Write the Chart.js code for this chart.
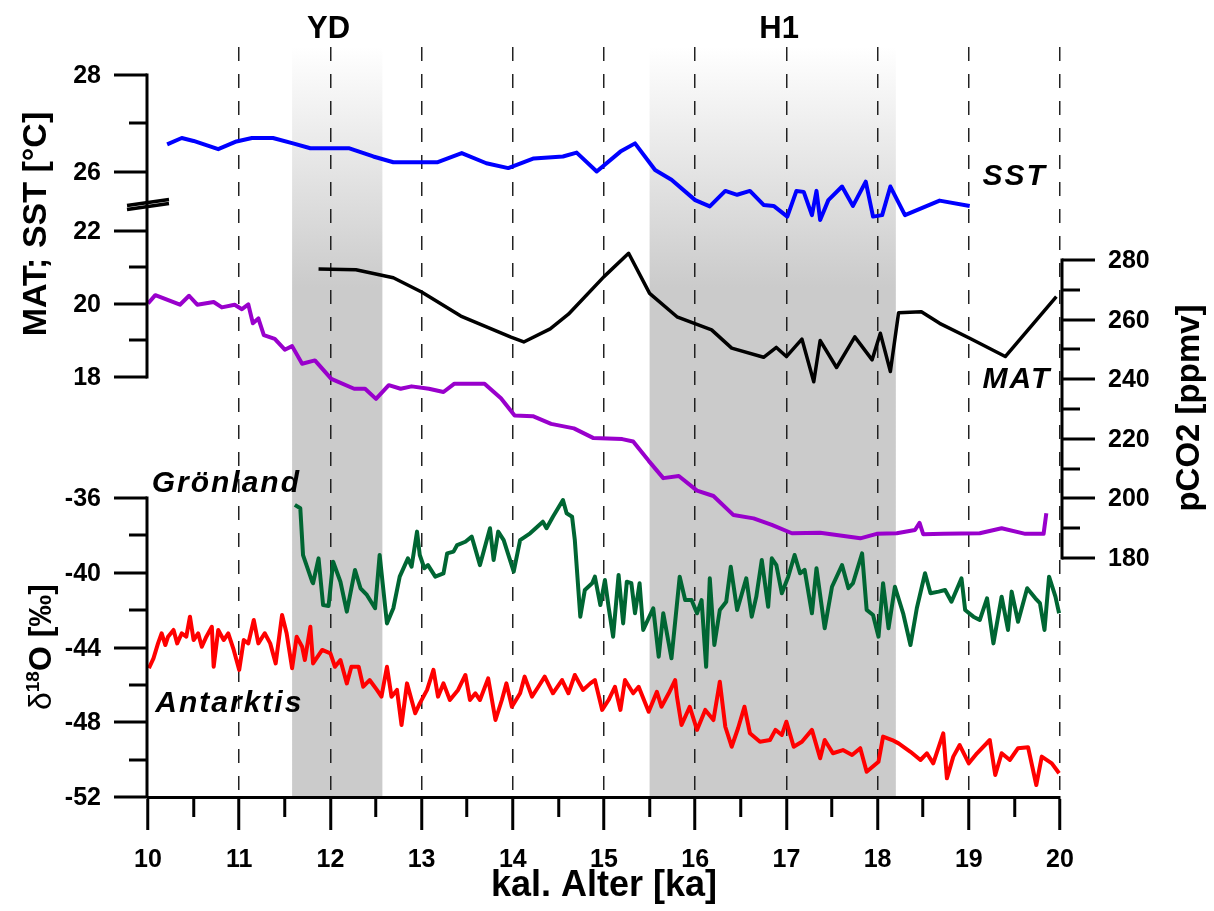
<!DOCTYPE html>
<html>
<head>
<meta charset="utf-8">
<script src="https://cdn.jsdelivr.net/npm/chart.js@4.4.0/dist/chart.umd.min.js"></script>
<style>
  html,body{margin:0;background:#fff}
  #wrap{width:1214px;height:911px;position:relative}
</style>
</head>
<body>
<div id="wrap"><canvas id="chart"></canvas></div>
<script>
/* ---------- data (age ka, value) ---------- */
const sst = [[10.21,26.57],[10.37,26.70],[10.50,26.64],[10.77,26.47],[10.97,26.63],[11.14,26.70],[11.37,26.70],[11.59,26.59],
  [11.78,26.49],[12.20,26.49],[12.47,26.32],[12.69,26.20],[13.17,26.20],[13.44,26.39],[13.71,26.18],[13.95,26.08],[14.23,26.28],
  [14.55,26.32],[14.70,26.40],[14.92,26.01],[15.18,26.42],[15.34,26.59],[15.56,26.04],[15.74,25.84],[16.00,25.42],[16.16,25.29],
  [16.33,25.61],[16.46,25.53],[16.60,25.61],[16.75,25.32],[16.86,25.30],[17.01,25.08],[17.11,25.61],[17.19,25.59],[17.28,25.11],
  [17.33,25.61],[17.37,25.01],[17.46,25.42],[17.61,25.70],[17.73,25.30],[17.87,25.80],[17.95,25.08],[18.05,25.11],[18.14,25.70],
  [18.30,25.11],[18.68,25.41],[19.01,25.30]];

const mat = [[11.87,20.96],[12.28,20.94],[12.69,20.72],[13.00,20.33],[13.43,19.67],[13.98,19.09],[14.12,18.96],[14.41,19.32],
  [14.61,19.72],[15.00,20.75],[15.27,21.39],[15.50,20.29],[15.80,19.65],[16.18,19.29],[16.40,18.79],[16.75,18.54],[16.89,18.81],
  [17.00,18.56],[17.17,19.04],[17.30,17.87],[17.37,19.00],[17.55,18.26],[17.75,19.10],[17.94,18.47],[18.03,19.20],[18.14,18.15],
  [18.23,19.76],[18.48,19.79],[18.68,19.47],[19.01,19.06],[19.40,18.56],[19.96,20.20]];

const pco2 = [[10.00,265.4],[10.08,268.2],[10.35,265.0],[10.45,268.0],[10.54,265.0],[10.72,265.9],[10.81,264.1],[10.95,265.0],
  [11.03,263.5],[11.10,265.1],[11.15,258.8],[11.21,260.4],[11.27,254.8],[11.39,253.5],[11.50,249.9],[11.58,251.1],[11.69,245.2],
  [11.83,246.3],[12.01,240.1],[12.26,236.8],[12.38,236.8],[12.50,233.4],[12.64,238.0],[12.77,236.8],[12.89,237.6],[13.08,236.8],
  [13.24,235.7],[13.36,238.5],[13.69,238.5],[13.87,233.6],[14.02,227.8],[14.22,227.6],[14.42,225.0],[14.67,223.5],[14.88,220.3],
  [15.20,219.9],[15.32,219.1],[15.49,212.6],[15.65,206.8],[15.82,207.5],[16.02,202.6],[16.20,200.8],[16.42,194.4],[16.64,193.3],
  [16.84,191.1],[17.06,188.3],[17.37,188.5],[17.81,186.6],[17.99,188.1],[18.21,188.3],[18.41,189.4],[18.46,191.8],[18.50,188.0],
  [18.72,188.1],[19.12,188.3],[19.36,190.0],[19.62,188.1],[19.82,188.1],[19.85,195.0]];

const greenland = [[11.61,-36.37],[11.67,-36.55],[11.70,-39.06],[11.80,-40.48],[11.81,-40.56],[11.87,-39.23],[11.92,-41.73],
  [11.98,-41.78],[12.03,-39.41],[12.11,-40.48],[12.18,-42.08],[12.27,-39.85],[12.33,-40.83],[12.40,-41.19],[12.49,-41.90],
  [12.54,-39.05],[12.62,-42.71],[12.69,-41.90],[12.76,-40.21],[12.85,-39.23],[12.89,-39.68],[12.95,-37.80],[12.98,-39.05],
  [13.03,-39.76],[13.07,-39.59],[13.15,-40.21],[13.24,-40.03],[13.28,-38.96],[13.35,-38.87],[13.39,-38.52],[13.48,-38.34],
  [13.55,-38.07],[13.64,-39.59],[13.75,-37.62],[13.79,-39.32],[13.84,-37.80],[13.90,-38.25],[14.01,-39.94],[14.08,-38.25],
  [14.19,-37.89],[14.33,-37.27],[14.37,-37.62],[14.44,-37.00],[14.55,-36.11],[14.59,-36.82],[14.65,-37.00],[14.68,-38.25],
  [14.74,-42.35],[14.79,-40.92],[14.87,-40.56],[14.90,-40.21],[14.96,-41.73],[15.01,-40.39],[15.05,-41.82],[15.10,-43.42],
  [15.16,-40.12],[15.21,-42.71],[15.25,-40.48],[15.30,-40.56],[15.34,-42.17],[15.39,-40.56],[15.43,-43.06],[15.54,-41.90],
  [15.60,-44.49],[15.65,-42.17],[15.74,-44.58],[15.83,-40.21],[15.89,-41.46],[15.96,-41.46],[16.02,-42.17],[16.07,-41.46],
  [16.12,-45.03],[16.16,-40.30],[16.21,-43.86],[16.27,-41.99],[16.34,-41.55],[16.39,-39.68],[16.46,-41.99],[16.56,-40.30],
  [16.62,-42.35],[16.67,-41.28],[16.73,-39.32],[16.80,-41.82],[16.84,-39.23],[16.89,-39.59],[16.95,-41.10],[17.02,-40.21],
  [17.09,-39.05],[17.15,-40.03],[17.20,-39.85],[17.28,-42.17],[17.33,-39.76],[17.42,-42.97],[17.50,-40.75],[17.61,-39.59],
  [17.68,-40.83],[17.73,-40.56],[17.83,-38.96],[17.88,-41.99],[17.95,-42.26],[18.01,-43.42],[18.06,-40.56],[18.12,-42.97],
  [18.19,-40.75],[18.28,-42.17],[18.36,-43.87],[18.43,-41.90],[18.52,-40.03],[18.58,-41.10],[18.67,-41.01],[18.74,-40.92],
  [18.81,-41.55],[18.92,-40.30],[18.96,-41.99],[19.05,-42.35],[19.12,-42.53],[19.20,-41.37],[19.27,-43.78],[19.36,-41.28],
  [19.43,-43.06],[19.47,-41.01],[19.54,-42.62],[19.64,-40.83],[19.73,-41.37],[19.78,-41.63],[19.83,-43.06],[19.88,-40.21],
  [19.95,-41.28],[19.99,-42.17]];

const antarctica = [[10.01,-45.11],[10.06,-44.58],[10.11,-43.78],[10.15,-43.24],[10.19,-43.87],[10.22,-43.42],[10.28,-43.06],
  [10.32,-43.78],[10.37,-43.24],[10.42,-43.42],[10.46,-42.35],[10.50,-43.60],[10.55,-43.24],[10.59,-43.96],[10.64,-43.42],
  [10.70,-42.89],[10.72,-45.03],[10.77,-43.06],[10.83,-43.60],[10.88,-43.24],[10.94,-44.13],[11.00,-45.20],[11.05,-43.60],
  [11.10,-43.78],[11.16,-42.53],[11.21,-43.78],[11.28,-43.24],[11.34,-43.78],[11.40,-44.85],[11.47,-42.26],[11.52,-43.24],
  [11.58,-45.11],[11.63,-43.42],[11.69,-43.96],[11.72,-44.67],[11.78,-42.89],[11.81,-44.85],[11.91,-44.13],[12.00,-44.31],
  [12.05,-45.03],[12.11,-44.67],[12.18,-45.92],[12.23,-45.03],[12.31,-45.03],[12.36,-46.10],[12.43,-45.74],[12.51,-46.27],
  [12.56,-46.63],[12.62,-45.03],[12.67,-46.63],[12.73,-46.27],[12.78,-48.15],[12.84,-45.92],[12.93,-47.52],[12.98,-46.99],
  [13.06,-46.27],[13.13,-45.20],[13.18,-46.63],[13.24,-45.92],[13.31,-46.81],[13.40,-46.27],[13.48,-45.47],[13.53,-46.81],
  [13.59,-46.45],[13.64,-46.81],[13.73,-45.65],[13.81,-47.88],[13.88,-46.81],[13.93,-45.92],[13.99,-47.17],[14.08,-46.45],
  [14.13,-45.56],[14.21,-46.63],[14.28,-46.10],[14.35,-45.56],[14.44,-46.45],[14.54,-45.74],[14.61,-46.45],[14.68,-45.47],
  [14.77,-46.27],[14.85,-45.92],[14.90,-45.74],[14.98,-47.34],[15.05,-46.81],[15.12,-46.10],[15.18,-47.34],[15.23,-45.74],
  [15.32,-46.45],[15.38,-46.10],[15.49,-47.44],[15.58,-46.37],[15.63,-47.17],[15.71,-46.45],[15.78,-45.74],[15.80,-46.63],
  [15.85,-48.15],[15.94,-47.17],[16.02,-48.41],[16.11,-47.34],[16.20,-47.88],[16.27,-45.83],[16.33,-48.24],[16.40,-49.31],
  [16.47,-48.32],[16.54,-47.17],[16.60,-48.59],[16.71,-49.04],[16.82,-48.95],[16.88,-48.41],[16.95,-48.68],[17.00,-47.97],
  [17.08,-49.31],[17.17,-49.04],[17.28,-48.41],[17.37,-49.93],[17.42,-48.95],[17.51,-49.66],[17.62,-49.49],[17.72,-49.75],
  [17.81,-49.39],[17.88,-50.65],[18.01,-50.11],[18.06,-48.77],[18.16,-48.95],[18.23,-49.13],[18.36,-49.58],[18.47,-50.02],
  [18.54,-49.66],[18.61,-50.20],[18.72,-48.59],[18.76,-51.00],[18.83,-49.84],[18.90,-49.22],[19.00,-50.20],[19.09,-49.66],
  [19.23,-48.95],[19.29,-50.82],[19.36,-49.66],[19.45,-50.02],[19.54,-49.39],[19.65,-49.34],[19.74,-51.36],[19.80,-49.84],
  [19.91,-50.20],[19.99,-50.73]];

/* shaded events: YD and H1 (ka) */
const bands = [[11.58,12.57,'YD'],[15.50,18.20,'H1']];

/* axis tick values */
const sstTicks = [28,27,26];
const matTicks = [22,21,20,19,18];
const o18Ticks = [-36,-38,-40,-42,-44,-46,-48,-50,-52];
const co2Ticks = [280,270,260,250,240,230,220,210,200,190,180];

/* ---------- helpers ---------- */
const F = "'Liberation Sans', Arial, sans-serif";
const pts = a => a.map(([x,y]) => ({x, y}));
const line = (label, data, color, axis, w) => ({label, data:pts(data), borderColor:color, backgroundColor:color,
  borderWidth:w, pointRadius:0, tension:0, yAxisID:axis, clip:false, borderJoinStyle:'round'});

/* ---------- plugins ---------- */
const background = {
  id:'background',
  beforeDraw(c){
    const {ctx, chartArea:a, scales:{x}} = c;
    ctx.save();
    ctx.fillStyle = '#fff'; ctx.fillRect(0,0,c.width,c.height);
    const g = ctx.createLinearGradient(0, a.top, 0, a.top + 240);
    g.addColorStop(0,'#ffffff'); g.addColorStop(1,'#cbcbcb');
    ctx.fillStyle = g;
    bands.forEach(([b0,b1]) => {
      const x0 = x.getPixelForValue(b0), x1 = x.getPixelForValue(b1);
      ctx.fillRect(x0, a.top, x1-x0, a.bottom-a.top);
    });
    ctx.restore();
  }
};

function tickSet(ctx, x, dir, sc, vals, isMajor){
  vals.forEach(v => {
    const y = Math.round(sc.getPixelForValue(v));
    const maj = isMajor(v);
    ctx.beginPath(); ctx.moveTo(x, y); ctx.lineTo(x + dir*(maj ? 33 : 18), y); ctx.stroke();
    if (maj){
      ctx.textAlign = dir < 0 ? 'right' : 'left';
      ctx.fillText(String(v), x + dir*46, y + 1);
    }
  });
}

function vtext(ctx, txt, cx, cy, font){
  ctx.save(); ctx.translate(cx, cy); ctx.rotate(-Math.PI/2);
  ctx.font = font; ctx.textAlign = 'center'; ctx.textBaseline = 'middle';
  ctx.fillText(txt, 0, 0); ctx.restore();
}

const axes = {
  id:'axes',
  afterDraw(c){
    const {ctx, chartArea:a, scales:s} = c;
    const xl = s.x.getPixelForValue(10) - 1, xr = s.x.getPixelForValue(20) + 2;
    ctx.save();
    ctx.strokeStyle = '#000'; ctx.fillStyle = '#000'; ctx.lineWidth = 3;
    ctx.font = `bold 25px ${F}`; ctx.textBaseline = 'middle';

    // left upper: SST / MAT (broken axis)
    ctx.beginPath(); ctx.moveTo(xl, s.ySST.getPixelForValue(28) - 1.5); ctx.lineTo(xl, s.yMAT.getPixelForValue(18) + 1.5); ctx.stroke();
    tickSet(ctx, xl, -1, s.ySST, sstTicks, v => v % 2 === 0);
    tickSet(ctx, xl, -1, s.yMAT, matTicks, v => v % 2 === 0);
    const yb = (s.ySST.getPixelForValue(26) + s.yMAT.getPixelForValue(22)) / 2 + 1;
    ctx.lineWidth = 3.5;
    ctx.beginPath(); ctx.moveTo(xl - 20, yb + 3); ctx.lineTo(xl + 22, yb - 3); ctx.stroke();
    ctx.beginPath(); ctx.moveTo(xl - 20, yb + 7); ctx.lineTo(xl + 22, yb + 1); ctx.stroke();
    ctx.lineWidth = 3;

    // left lower: d18O
    ctx.beginPath(); ctx.moveTo(xl, s.yO.getPixelForValue(-36) - 1.5); ctx.lineTo(xl, s.yO.getPixelForValue(-52)); ctx.stroke();
    tickSet(ctx, xl, -1, s.yO, o18Ticks, v => v % 4 === 0);

    // right: pCO2
    ctx.beginPath(); ctx.moveTo(xr, s.yCO2.getPixelForValue(280) - 1.5); ctx.lineTo(xr, s.yCO2.getPixelForValue(180) + 1.5); ctx.stroke();
    tickSet(ctx, xr, 1, s.yCO2, co2Ticks, v => v % 20 === 0);

    // axis titles
    vtext(ctx, 'MAT; SST [°C]', 37, 224, `bold 34px ${F}`);
    vtext(ctx, 'pCO2 [ppmv]', 1190, 408, `bold 33px ${F}`);
    ctx.save(); ctx.translate(40, 647); ctx.rotate(-Math.PI/2);
    const parts = [['δ', `32px ${F}`, 0], ['18', `bold 19px ${F}`, -12], ['O [‰]', `bold 32px ${F}`, 0]];
    let tw = 0; parts.forEach(p => { ctx.font = p[1]; tw += ctx.measureText(p[0]).width; });
    let px = -tw/2; ctx.textAlign = 'left'; ctx.textBaseline = 'alphabetic';
    parts.forEach(p => { ctx.font = p[1]; ctx.fillText(p[0], px, 11 + p[2]); px += ctx.measureText(p[0]).width; });
    ctx.restore();

    // series labels
    ctx.font = `italic bold 30px ${F}`; ctx.textAlign = 'left'; ctx.textBaseline = 'middle';
    ctx.letterSpacing = '2px';
    ctx.fillText('SST', s.x.getPixelForValue(19.15), s.ySST.getPixelForValue(25.9));
    ctx.fillText('MAT', s.x.getPixelForValue(19.15), s.yMAT.getPixelForValue(17.92));
    ctx.fillText('Grönland', s.x.getPixelForValue(10.04), s.yO.getPixelForValue(-35.25));
    ctx.fillText('Antarktis', s.x.getPixelForValue(10.08), s.yO.getPixelForValue(-47.02));
    ctx.letterSpacing = '0px';
    ctx.font = `bold 31px ${F}`; ctx.textAlign = 'center';
    bands.forEach(([b0,b1,name]) => ctx.fillText(name, s.x.getPixelForValue(name === 'YD' ? 11.98 : 16.92), a.top - 18));
    ctx.restore();
  }
};

/* ---------- chart ---------- */
new Chart(document.getElementById('chart'), {
  type:'line',
  data:{datasets:[
    line('SST', sst, '#0000ff', 'ySST', 4),
    line('MAT', mat, '#000000', 'yMAT', 3.5),
    line('pCO2', pco2, '#9900cc', 'yCO2', 4),
    line('Grönland', greenland, '#006633', 'yO', 4),
    line('Antarktis', antarctica, '#ff0000', 'yO', 4)
  ]},
  options:{
    responsive:true, maintainAspectRatio:false, animation:false,
    layout:{padding:{left:148, right:154, top:47, bottom:0}},
    plugins:{legend:{display:false}, tooltip:{enabled:false}},
    scales:{
      x:{type:'linear', position:'bottom', min:10, max:20,
        afterFit: sc => { sc.height = 114; },
        ticks:{stepSize:0.5, autoSkip:false, maxRotation:0, padding:15, color:'#000',
          font:{family:F, size:25, weight:'bold'},
          callback: v => Number.isInteger(v) ? v : ''},
        grid:{
          color: c => (c.tick && Number.isInteger(c.tick.value) && c.tick.value > 10) ? '#222' : 'rgba(0,0,0,0)',
          lineWidth:1.5, tickLength:33, tickWidth:3, tickColor:'#000',
          tickBorderDash: c => (c.tick && !Number.isInteger(c.tick.value)) ? [18, 60] : []},
        border:{color:'#000', width:3, dash:[14,13]},
        title:{display:true, text:'kal. Alter [ka]', color:'#000', font:{family:F, size:36, weight:'bold'}, padding:{top:0, bottom:3}}
      },
      ySST:{display:false, min:13.113, max:28.577},
      yMAT:{display:false, min:6.493, max:27.041},
      yCO2:{display:false, min:99.8, max:351.48},
      yO:{display:false, min:-52, max:-11.866}
    }
  },
  plugins:[background, axes]
});
</script>
</body>
</html>
